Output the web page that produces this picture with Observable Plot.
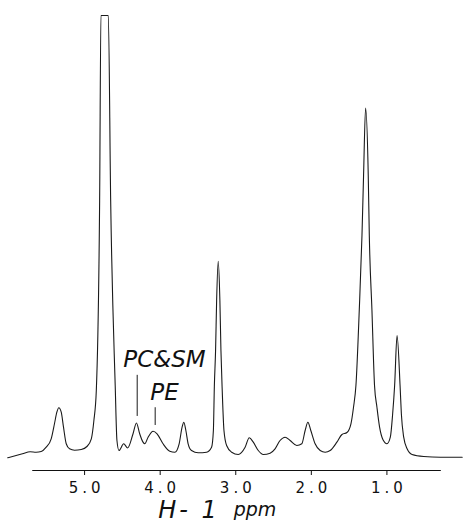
<!DOCTYPE html>
<html>
<head>
<meta charset="utf-8">
<script src="https://cdn.jsdelivr.net/npm/d3@7"></script>
<script src="https://cdn.jsdelivr.net/npm/@observablehq/plot@0.6"></script>
<style>
  html, body { margin: 0; padding: 0; background: #fff; }
  #chart svg { display: block; }
</style>
</head>
<body>
<div id="chart"></div>
<script>
// Chemical shift (ppm), ordered left to right on the reversed axis
const ppm = [
  6.017, 5.906, 5.822, 5.720, 5.641, 5.574, 5.508, 5.442, 5.398, 5.367,
  5.341, 5.309, 5.279, 5.243, 5.199, 5.133, 5.044, 4.969, 4.911, 4.877,
  4.845, 4.801, 4.784, 4.686, 4.655, 4.595, 4.572, 4.545, 4.483, 4.430,
  4.359, 4.314, 4.271, 4.227, 4.204, 4.160, 4.094, 4.041, 3.962, 3.873,
  3.806, 3.749, 3.710, 3.687, 3.660, 3.630, 3.585, 3.497, 3.386, 3.320,
  3.296, 3.283, 3.267, 3.253, 3.232, 3.210, 3.196, 3.179, 3.156, 3.121,
  3.054, 2.967, 2.878, 2.821, 2.768, 2.702, 2.635, 2.546, 2.480, 2.414,
  2.347, 2.281, 2.192, 2.126, 2.082, 2.046, 2.007, 1.950, 1.883, 1.817,
  1.751, 1.662, 1.595, 1.529, 1.476, 1.442, 1.410, 1.366, 1.330, 1.309,
  1.282, 1.247, 1.233, 1.198, 1.164, 1.132, 1.097, 1.052, 0.999, 0.955,
  0.924, 0.898, 0.866, 0.826, 0.809, 0.778, 0.733, 0.667, 0.513, 0.292,
  0.004
];
// Relative intensity (tallest unclipped peak = 100; water peak clipped at the top)
const intensity = [
  -0.37, 0.29, 0.78, 1.35, 1.23, 1.44, 2.67, 5.08, 9.47, 12.72,
  13.98, 12.72, 8.41, 3.67, 2.21, 1.81, 2.01, 2.87, 5.08, 10.34,
  18.95, 73.5, 126.6, 126.6, 73.5, 20.38, 4.59, 1.72, 3.65, 2.44,
  6.52, 9.62, 6.52, 4.11, 3.65, 5.54, 7.26, 6.52, 3.65, 1.52,
  1.23, 3.65, 8.41, 9.85, 7.46, 3.65, 1.72, 1.06, 1.23, 2.67,
  7.46, 20.38, 30.43, 44.79, 56.07, 44.79, 30.43, 18.95, 7.46, 3.16,
  1.23, 0.57, 2.58, 5.37, 4.11, 1.72, 0.57, 0.95, 2.21, 4.59,
  5.54, 4.59, 3.16, 3.65, 7.46, 9.85, 7.46, 3.65, 1.72, 1.23,
  1.72, 4.11, 6.32, 6.89, 9.39, 14.15, 20.38, 41.92, 63.45, 80.68,
  100.0, 80.68, 63.45, 41.92, 20.38, 14.15, 8.41, 4.79, 3.65, 5.54,
  12.26, 20.38, 34.74, 20.38, 12.26, 5.54, 2.21, 0.57, 0.0, -0.2,
  -0.2
];
const tickValues = [5, 4, 3, 2, 1];
const axisSpan = [5.686, 0.280];

// Peak annotations
const labelNames = ["PC&SM", "PE"];
const labelPpm = [3.943, 3.943];
const labelY = [25.6, 16.1];
const markerPpm = [4.304, 4.066];
const markerTop = [23.3, 14.0];
const markerBottom = [11.5, 8.9];

const spectrum = ppm.map((p, i) => ({ppm: p, intensity: intensity[i]}));
const labels = labelNames.map((n, i) => ({name: n, ppm: labelPpm[i], y: labelY[i]}));
const markers = markerPpm.map((p, i) => ({ppm: p, y1: markerBottom[i], y2: markerTop[i]}));

const yMin = -4.02, yMax = 126.6;
const font = "'DejaVu Sans', sans-serif";

const chart = Plot.plot({
  width: 463,
  height: 522,
  marginLeft: 7,
  marginRight: 1,
  marginTop: 15,
  marginBottom: 52,
  style: {fontFamily: font, background: "#fff", color: "#111"},
  x: {domain: [6.02, 0], axis: null},
  y: {domain: [yMin, yMax], axis: null},
  marks: [
    Plot.ruleY([yMin], {x1: axisSpan[0], x2: axisSpan[1], stroke: "#111", strokeWidth: 1}),
    Plot.axisX({
      ticks: tickValues,
      tickFormat: d3.format(".1f"),
      tickSize: 5,
      tickPadding: 7,
      fontSize: 15,
      stroke: "#111",
      label: null
    }),
    Plot.line(spectrum, {x: "ppm", y: "intensity", curve: "monotone-x", stroke: "#1a1a1a", strokeWidth: 1.1}),
    Plot.ruleX(markers, {x: "ppm", y1: "y1", y2: "y2", stroke: "#1a1a1a", strokeWidth: 1}),
    Plot.text(labels, {x: "ppm", y: "y", text: "name", fontSize: 23, fontStyle: "italic", lineAnchor: "bottom", fill: "#111"}),
    Plot.text(["H- 1"], {frameAnchor: "bottom", dx: -46, dy: 47, fontSize: 24, fontStyle: "italic", lineAnchor: "bottom", fill: "#111"}),
    Plot.text(["ppm"], {frameAnchor: "bottom", dx: 20, dy: 45, fontSize: 19, fontStyle: "italic", lineAnchor: "bottom", fill: "#111"})
  ]
});

d3.select(chart).selectAll('g[aria-label="x-axis tick label"] text')
  .style("letter-spacing", "4px")
  .attr("dx", 2);
d3.select(chart).selectAll("text")
  .filter(function () { return this.textContent === "H- 1"; })
  .style("letter-spacing", "3px");

document.getElementById("chart").appendChild(chart);
</script>
</body>
</html>
